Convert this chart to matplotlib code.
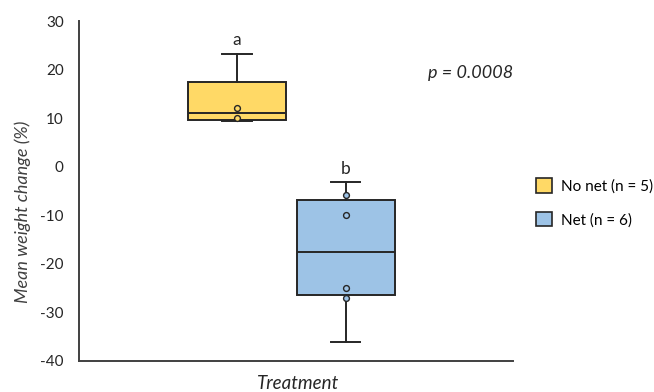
import matplotlib
matplotlib.use("Agg")
import matplotlib.pyplot as plt
from matplotlib.patches import Patch

plt.rcParams['font.family'] = ['Lato', 'DejaVu Sans']
plt.rcParams['axes.unicode_minus'] = False

# box statistics per treatment
groups = ['No net (n = 5)', 'Net (n = 6)']
whislo = [9.5, -36.0]
q1 = [9.7, -26.4]
med = [11.0, -17.5]
q3 = [17.5, -6.9]
whishi = [23.3, -3.1]
inner_points = [[12.1, 10.0], [-5.9, -10.0, -25.0, -27.0]]
letters = ['a', 'b']
colors = ['#FFD966', '#9DC3E6']

positions = [0.364, 0.615]
edge = '#262626'

fig = plt.figure(figsize=(6.54, 3.92), dpi=100)
ax = fig.add_axes([0.1208, 0.0791, 0.6636, 0.8673])

stats = []
for i in range(len(groups)):
    stats.append(dict(label=groups[i], whislo=whislo[i], q1=q1[i], med=med[i],
                      q3=q3[i], whishi=whishi[i], fliers=[]))

bp = ax.bxp(stats, positions=positions, widths=0.226, patch_artist=True,
            showfliers=False,
            boxprops=dict(linewidth=1.4, edgecolor=edge),
            medianprops=dict(color=edge, linewidth=1.4),
            whiskerprops=dict(color=edge, linewidth=1.4),
            capprops=dict(color=edge, linewidth=1.4),
            capwidths=0.067)
for box, c in zip(bp['boxes'], colors):
    box.set_facecolor(c)

for i in range(len(groups)):
    ax.plot([positions[i]] * len(inner_points[i]), inner_points[i], 'o',
            ms=4.2, mfc=colors[i], mec=edge, mew=1.0, zorder=5)
    ax.text(positions[i], whishi[i] + 2.7, letters[i], ha='center', va='center',
            fontsize=12.5, color='#262626')

ax.text(0.805, 0.847, 'p = 0.0008', transform=ax.transAxes, fontsize=13,
        style='italic', color='#262626', ha='left', va='center')

ax.set_xlim(0, 1)
ax.set_ylim(-40, 30)
ax.set_yticks(range(-40, 31, 10))
ax.set_xticks([])
ax.tick_params(axis='y', length=0, pad=11, labelsize=11, labelcolor='#262626')
for s in ['top', 'right']:
    ax.spines[s].set_visible(False)
for s in ['left', 'bottom']:
    ax.spines[s].set_color('#404040')
    ax.spines[s].set_linewidth(1.4)

ax.set_xlabel('Treatment', fontsize=13.5, style='italic', color='#262626')
ax.xaxis.set_label_coords(0.505, -0.04)
ax.set_ylabel('Mean weight change (%)', fontsize=13, style='italic', color='#404040')
ax.yaxis.set_label_coords(-0.11, 0.44)

handles = [Patch(facecolor=c, edgecolor=edge, linewidth=1.2) for c in colors]
fig.legend(handles, groups, loc='upper left', bbox_to_anchor=(0.82, 0.545),
           frameon=False, fontsize=11, handlelength=1.05, handleheight=1.05,
           handletextpad=0.55, labelspacing=1.2, borderaxespad=0, borderpad=0)

fig.savefig('out.png', dpi=100)
